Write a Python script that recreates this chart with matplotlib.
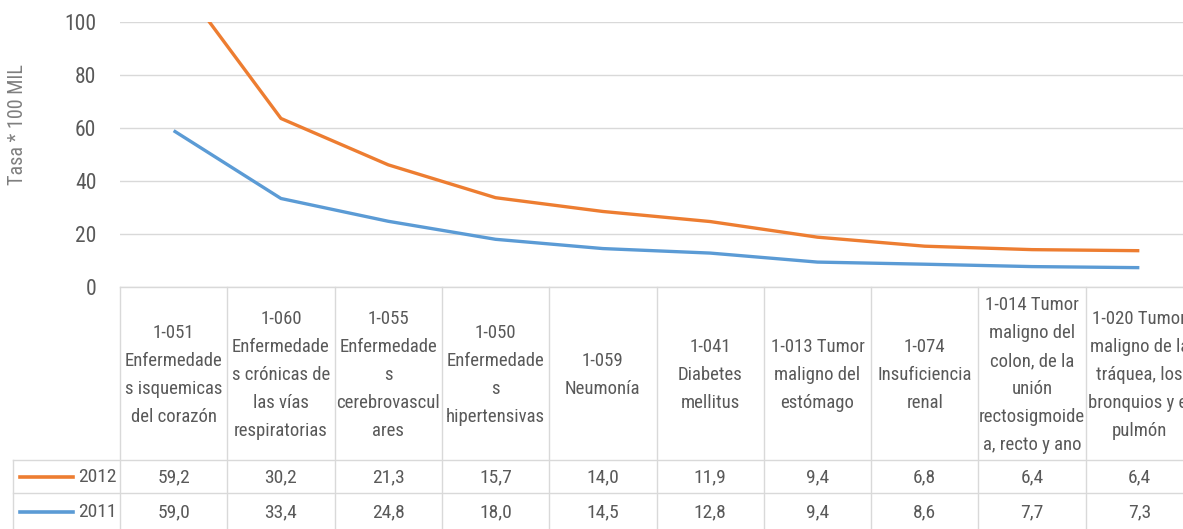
import matplotlib
matplotlib.use("Agg")
import matplotlib.pyplot as plt
from matplotlib import font_manager
from matplotlib.transforms import blended_transform_factory
import numpy as np

# ---- data -------------------------------------------------------------
categories = [
    "1-051\nEnfermedade\ns isquemicas\ndel corazón",
    "1-060\nEnfermedade\ns crónicas de\nlas vías\nrespiratorias",
    "1-055\nEnfermedade\ns\ncerebrovascul\nares",
    "1-050\nEnfermedade\ns\nhipertensivas",
    "1-059\nNeumonía",
    "1-041\nDiabetes\nmellitus",
    "1-013 Tumor\nmaligno del\nestómago",
    "1-074\nInsuficiencia\nrenal",
    "1-014 Tumor\nmaligno del\ncolon, de la\nunión\nrectosigmoide\na, recto y ano",
    "1-020 Tumor\nmaligno de la\ntráquea, los\nbronquios y el\npulmón",
]
series_names = ["2012", "2011"]
values_2012 = [59.2, 30.2, 21.3, 15.7, 14.0, 11.9, 9.4, 6.8, 6.4, 6.4]
values_2011 = [59.0, 33.4, 24.8, 18.0, 14.5, 12.8, 9.4, 8.6, 7.7, 7.3]
y_ticks = [0, 20, 40, 60, 80, 100]
y_label = "Tasa * 100 MIL"

# ---- font: prefer a narrow face ---------------------------------------
fonts = font_manager.fontManager.ttflist
names = {f.name for f in fonts}
family, stretch = "DejaVu Sans", "normal"
for cand in ["Liberation Sans Narrow", "Roboto Condensed", "Open Sans Condensed",
             "DejaVu Sans Condensed", "Noto Sans Condensed"]:
    if cand in names:
        family = cand
        break
else:
    for fam in ["DejaVu Sans", "Open Sans", "Noto Sans", "Roboto", "Inter"]:
        hits = [f for f in fonts if f.name == fam and f.weight in (400, "normal", "regular")
                and str(f.stretch) in ("condensed", "semi-condensed", "extra-condensed")]
        if hits:
            family, stretch = fam, hits[0].stretch
            break
plt.rcParams["font.family"] = [family, "DejaVu Sans"]
plt.rcParams["font.stretch"] = stretch

ORANGE = "#ED7D31"
BLUE = "#5B9BD5"
GRID = "#D9D9D9"
TEXT = "#595959"

W, H = 1183, 529
fig = plt.figure(figsize=(W / 100, H / 100), dpi=100)

# plot area in pixel coordinates (the last column runs past the right edge)
left_px, right_px, top_px, zero_px = 120, 1193, 22, 287
ax = fig.add_axes([left_px / W, 1 - zero_px / H,
                   (right_px - left_px) / W, (zero_px - top_px) / H])

n = len(categories)
x = np.arange(n)
# stacked lines: the 2012 series sits on top of 2011
base = np.array(values_2011)
top = base + np.array(values_2012)
ax.plot(x, base, color=BLUE, lw=2.4, solid_capstyle="butt", zorder=3)
ax.plot(x, top, color=ORANGE, lw=2.4, solid_capstyle="butt", zorder=3)

ax.set_xlim(-0.5, n - 0.5)
ax.set_ylim(0, 100)
ax.set_yticks(y_ticks)
ax.set_yticklabels([str(t) for t in y_ticks], fontsize=15.5, color=TEXT)
ax.tick_params(axis="y", length=0, pad=17)
ax.set_xticks([])
ax.grid(axis="y", color=GRID, lw=1)
ax.set_axisbelow(True)
for s in ax.spines.values():
    s.set_visible(False)

fig.text(18 / W, 1 - 125 / H, y_label, rotation=90, ha="center", va="center",
         fontsize=14.5, color="#7F7F7F")

# ---- data table below the plot ------------------------------------------
tr = blended_transform_factory(ax.transData, fig.transFigure)
fy = lambda py: 1 - py / H
fx = lambda px: px / W

row_top = [460, 493]
row_mid = [477, 512]
bottom_px = 531

# horizontal rules
fig.add_artist(plt.Line2D([fx(left_px), 1], [fy(zero_px)] * 2, color=GRID, lw=1))
for ry in row_top:
    fig.add_artist(plt.Line2D([fx(13), 1], [fy(ry)] * 2, color=GRID, lw=1))
# vertical rules
for b in np.arange(-0.5, n, 1.0):
    fig.add_artist(plt.Line2D([b, b], [fy(zero_px), fy(bottom_px)],
                              color=GRID, lw=1, transform=tr))
fig.add_artist(plt.Line2D([fx(13), fx(13)], [fy(row_top[0]), fy(bottom_px)],
                          color=GRID, lw=1))

# category headers
for i, lab in enumerate(categories):
    fig.text(x[i], fy(375), lab, transform=tr, ha="center", va="center",
             fontsize=13.5, color=TEXT, linespacing=1.72)

# series rows
series_vals = [values_2012, values_2011]
series_cols = [ORANGE, BLUE]
for name, vals, col, my in zip(series_names, series_vals, series_cols, row_mid):
    fig.add_artist(plt.Line2D([fx(20), fx(73)], [fy(my)] * 2, color=col, lw=2.6))
    fig.text(fx(78), fy(my), name, ha="left", va="center", fontsize=14, color=TEXT)
    for i, v in enumerate(vals):
        fig.text(x[i], fy(my), f"{v:.1f}".replace(".", ","), transform=tr,
                 ha="center", va="center", fontsize=14, color=TEXT)

fig.savefig("out.png", dpi=100)
